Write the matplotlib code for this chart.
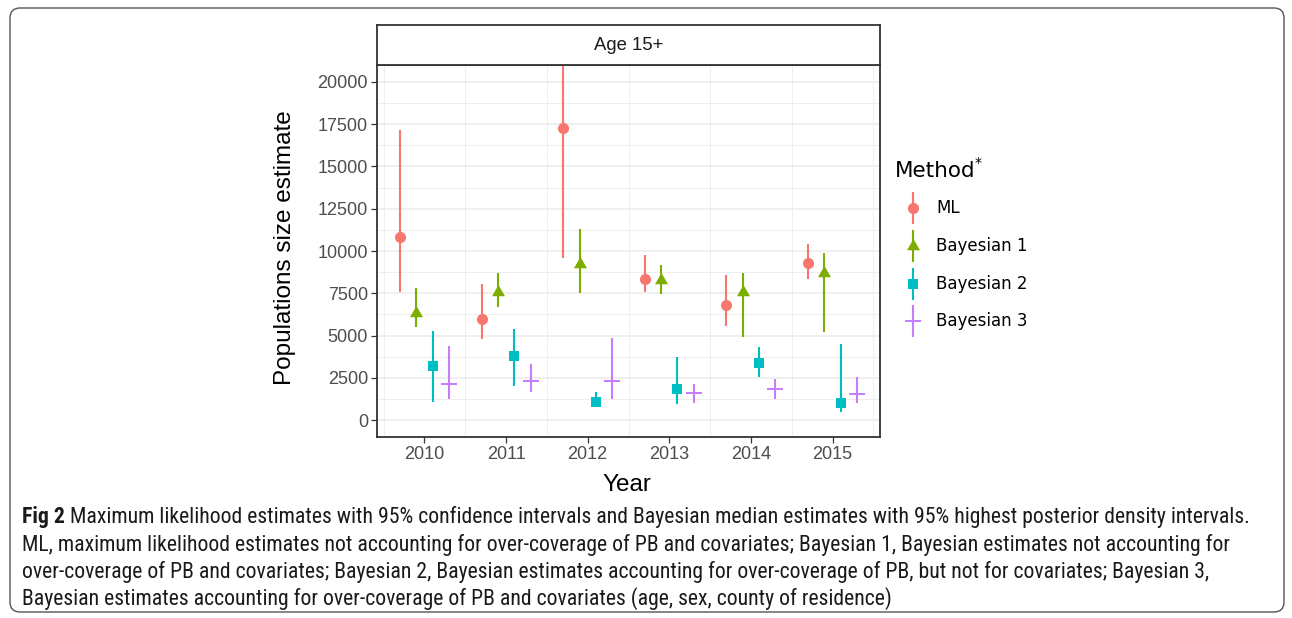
import matplotlib
matplotlib.use("Agg")
import matplotlib.pyplot as plt
import numpy as np
from matplotlib.patches import FancyBboxPatch
from matplotlib.lines import Line2D
from matplotlib import font_manager

# ---------------- data ----------------
years = [2010, 2011, 2012, 2013, 2014, 2015]
methods = ["ML", "Bayesian 1", "Bayesian 2", "Bayesian 3"]

ml_est = [10850, 6000, 17300, 8320, 6780, 9300]
ml_low = [7550, 4770, 9600, 7550, 5580, 8340]
ml_high = [17150, 8030, 24000, 9760, 8580, 10410]

b1_est = [6350, 7600, 9220, 8300, 7550, 8700]
b1_low = [5520, 6690, 7490, 7430, 4930, 5230]
b1_high = [7790, 8680, 11300, 9170, 8680, 9860]

b2_est = [3180, 3780, 1090, 1810, 3350, 990]
b2_low = [1050, 2010, 800, 950, 2560, 500]
b2_high = [5280, 5380, 1680, 3750, 4300, 4480]

b3_est = [2130, 2330, 2330, 1580, 1810, 1540]
b3_low = [1240, 1640, 1220, 1030, 1240, 990]
b3_high = [4400, 3290, 4830, 2130, 2410, 2560]

y_ticks = [0, 2500, 5000, 7500, 10000, 12500, 15000, 17500, 20000]
strip_label = "Age 15+"
x_title = "Year"
y_title = "Populations size estimate"
legend_title = "Method"

caption_bold = "Fig 2"
caption_lines = [
    " Maximum likelihood estimates with 95% confidence intervals and Bayesian median estimates with 95% highest posterior density intervals.",
    "ML, maximum likelihood estimates not accounting for over-coverage of PB and covariates; Bayesian 1, Bayesian estimates not accounting for",
    "over-coverage of PB and covariates; Bayesian 2, Bayesian estimates accounting for over-coverage of PB, but not for covariates; Bayesian 3,",
    "Bayesian estimates accounting for over-coverage of PB and covariates (age, sex, county of residence)",
]

# ---------------- style ----------------
colors = ["#F8766D", "#7CAE00", "#00BFC4", "#C77CFF"]
offsets = [-0.3, -0.1, 0.1, 0.3]
tri = [(0, 1.555), (1.3468, -0.7776), (-1.3468, -0.7776)]
markers = ["o", tri, "s", "+"]
msizes = [8.0, 10.8, 7.8, 11.5]
series = [(ml_est, ml_low, ml_high), (b1_est, b1_low, b1_high),
          (b2_est, b2_low, b2_high), (b3_est, b3_low, b3_high)]

installed = {f.name for f in font_manager.fontManager.ttflist}
cap_font = "Liberation Sans"
for cand in ["Liberation Sans Narrow", "Roboto Condensed", "Open Sans Condensed",
             "Noto Sans Condensed", "DejaVu Sans Condensed", "Liberation Sans"]:
    if cand in installed:
        cap_font = cand
        break

W, H = 1292, 618
fig = plt.figure(figsize=(W / 100, H / 100), dpi=100)
fig.patch.set_facecolor("white")

def fx(px):
    return px / W

def fy(py):
    return 1 - py / H

AX_L, AX_R, AX_T, AX_B = 377, 880, 65, 437
ax = fig.add_axes([fx(AX_L), fy(AX_B), (AX_R - AX_L) / W, (AX_B - AX_T) / H])
ax.set_facecolor("white")
ax.set_xlim(2009.42, 2015.58)
ax.set_ylim(-1000, 21000)

# grid
for v in y_ticks:
    ax.axhline(v, color="#EBEBEB", lw=1.1, zorder=0)
for v in np.arange(1250, 21000, 2500):
    ax.axhline(v, color="#EBEBEB", lw=0.6, zorder=0)
for v in np.arange(2009.5, 2016, 1.0):
    ax.axvline(v, color="#EBEBEB", lw=0.6, zorder=0)

yrs = np.array(years, dtype=float)
for (est, lo, hi), c, off, m, ms in zip(series, colors, offsets, markers, msizes):
    xs = yrs + off
    ax.vlines(xs, lo, hi, color=c, lw=1.5, zorder=3)
    if m == "+":
        ax.plot(xs, est, linestyle="none", marker=m, ms=ms, mew=1.4, color=c, zorder=4)
    else:
        ax.plot(xs, est, linestyle="none", marker=m, ms=ms, mew=0, color=c, zorder=4)

ax.set_xticks(years)
ax.set_xticklabels([str(y) for y in years])
ax.set_yticks(y_ticks)
ax.set_yticklabels([str(v) for v in y_ticks])
ax.tick_params(axis="both", direction="out", length=4, width=0.9, color="#333333",
               labelsize=13, labelcolor="#4D4D4D", pad=2.5)
for lab in ax.get_xticklabels() + ax.get_yticklabels():
    lab.set_fontfamily("Liberation Sans")
for s in ax.spines.values():
    s.set_color("#333333")
    s.set_linewidth(1.3)

# strip
sax = fig.add_axes([fx(AX_L), fy(AX_T), (AX_R - AX_L) / W, (AX_T - 25) / H])
sax.set_facecolor("white")
sax.set_xticks([]); sax.set_yticks([])
for s in sax.spines.values():
    s.set_color("#333333")
    s.set_linewidth(1.3)
sax.text(0.5, 0.5, strip_label, ha="center", va="center", fontsize=13.3,
         family="Liberation Sans", color="#1A1A1A", transform=sax.transAxes)

# axis titles
fig.text(fx(627), fy(485), x_title, ha="center", va="center", fontsize=17.5,
         family="Liberation Sans", color="black")
fig.text(fx(285), fy(248), y_title, ha="center", va="center", rotation=90,
         fontsize=17.5, family="Liberation Sans", color="black")

# overlay in pixel coordinates
ov = fig.add_axes([0, 0, 1, 1], zorder=-5)
ov.set_xlim(0, W); ov.set_ylim(H, 0)
ov.axis("off")
ov.patch.set_alpha(0)

# legend
ov.text(895, 171, legend_title, ha="left", va="center", fontsize=15.5,
        family="DejaVu Sans", color="black")
ov.text(975, 163, "*", ha="left", va="center", fontsize=10,
        family="DejaVu Sans", color="black")
rows = [208, 246, 284, 321]
for name, c, m, ms, ry in zip(methods, colors, markers, msizes, rows):
    ov.add_line(Line2D([913, 913], [ry - 15, ry + 15], color=c, lw=1.5))
    if m == "+":
        ov.plot([913], [ry], marker=m, ms=ms, mew=1.4, color=c, linestyle="none")
    else:
        ov.plot([913], [ry], marker=m, ms=ms, mew=0, color=c, linestyle="none")
    ov.text(936, ry, name, ha="left", va="center", fontsize=12,
            family="DejaVu Sans", color="black")

# outer rounded box
box = FancyBboxPatch((10, 8), 1274, 604, boxstyle="round,pad=0,rounding_size=10",
                     fc="none", ec="#555555", lw=1.0)
ov.add_patch(box)

# caption, fitted to the measured line width
cap_family = [cap_font, "DejaVu Sans"]
renderer = fig.canvas.get_renderer()
base = 14
t_b = ov.text(22, 523, caption_bold, ha="left", va="baseline", fontsize=base,
              fontweight="bold", family=cap_family, color="#1A1A1A")
t1 = ov.text(0, 523, caption_lines[0], ha="left", va="baseline", fontsize=base,
             family=cap_family, color="#1A1A1A")
wb = t_b.get_window_extent(renderer).width
w1 = t1.get_window_extent(renderer).width
scale = 1240.0 / (wb + w1)
fs = base * scale
t_b.set_fontsize(fs)
t1.set_fontsize(fs)
wb = t_b.get_window_extent(renderer).width
t1.set_x(22 + wb)
for line, by in zip(caption_lines[1:], [551, 578, 605]):
    ov.text(22, by, line, ha="left", va="baseline", fontsize=fs,
            family=cap_family, color="#1A1A1A")

fig.savefig("out.png", dpi=100, facecolor="white")
